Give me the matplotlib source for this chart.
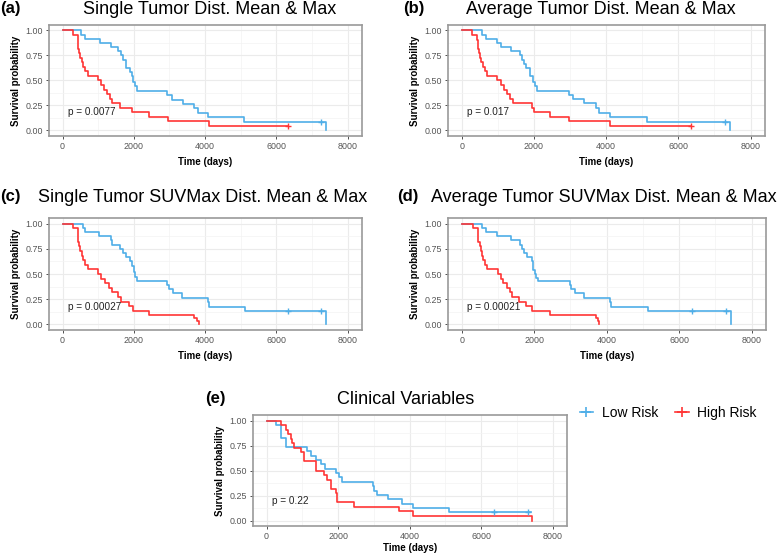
import numpy as np
import matplotlib
matplotlib.use("Agg")
import matplotlib.pyplot as plt
from matplotlib.lines import Line2D

plt.rcParams['font.family'] = ['Liberation Sans', 'DejaVu Sans']

BLUE = '#4FAEE8'
RED = '#FF3535'

# ---------------- data ----------------
titles = ["Single Tumor Dist. Mean & Max",
          "Average Tumor Dist. Mean & Max",
          "Single Tumor SUVMax Dist. Mean & Max",
          "Average Tumor SUVMax Dist. Mean & Max",
          "Clinical Variables"]
panel_tags = ["(a)", "(b)", "(c)", "(d)", "(e)"]
pvalues = ["p = 0.0077", "p = 0.017", "p = 0.00027", "p = 0.00021", "p = 0.22"]
legend_labels = ["Low Risk", "High Risk"]
x_ticks = [0, 2000, 4000, 6000, 8000]
y_ticks = [0.00, 0.25, 0.50, 0.75, 1.00]

# (a)
a_low_t = [0, 530, 620, 1040, 1360, 1550, 1640, 1690, 1780, 1880, 1940, 1990, 2030, 2080, 2920, 3080, 3380, 3690, 3810, 4085, 5100, 7400]
a_low_s = [1.0, 0.958, 0.917, 0.875, 0.833, 0.792, 0.75, 0.708, 0.625, 0.583, 0.54, 0.48, 0.44, 0.39, 0.35, 0.30, 0.26, 0.22, 0.17, 0.13, 0.083, 0.0]
a_low_c = [7260]
a_high_t = [0, 280, 420, 440, 470, 500, 540, 580, 640, 700, 990, 1070, 1150, 1250, 1330, 1380, 1620, 1960, 2430, 2950, 4100, 6330]
a_high_s = [1.0, 0.955, 0.909, 0.818, 0.773, 0.727, 0.682, 0.636, 0.591, 0.545, 0.5, 0.455, 0.409, 0.364, 0.318, 0.273, 0.227, 0.182, 0.136, 0.091, 0.045, 0.045]
a_high_c = [6330]

# (b)
b_low_t = [0, 550, 660, 970, 1090, 1360, 1620, 1680, 1730, 1790, 1900, 1970, 2030, 2080, 2980, 3080, 3380, 3730, 3800, 4100, 5130, 7420]
b_low_s = [1.0, 0.958, 0.917, 0.875, 0.833, 0.792, 0.75, 0.708, 0.667, 0.625, 0.54, 0.48, 0.44, 0.39, 0.35, 0.31, 0.27, 0.22, 0.17, 0.13, 0.083, 0.0]
b_low_c = [7290]
b_high_t = [0, 280, 420, 440, 470, 500, 540, 580, 640, 700, 990, 1080, 1170, 1250, 1340, 1420, 1940, 1990, 2440, 2970, 4100, 6350]
b_high_s = [1.0, 0.955, 0.909, 0.818, 0.773, 0.727, 0.682, 0.636, 0.591, 0.545, 0.5, 0.455, 0.409, 0.364, 0.318, 0.273, 0.227, 0.182, 0.136, 0.091, 0.045, 0.045]
b_high_c = [6350]

# (c)
c_low_t = [0, 575, 620, 1010, 1360, 1400, 1620, 1690, 1780, 1900, 1950, 1995, 2040, 2080, 2940, 2990, 3110, 3360, 4080, 4100, 5120, 7400]
c_low_s = [1.0, 0.958, 0.917, 0.875, 0.833, 0.792, 0.75, 0.708, 0.667, 0.625, 0.58, 0.52, 0.47, 0.43, 0.39, 0.35, 0.31, 0.26, 0.22, 0.175, 0.13, 0.0]
c_low_c = [6330, 7260]
c_high_t = [0, 280, 420, 440, 470, 500, 540, 580, 640, 700, 990, 1090, 1200, 1290, 1380, 1550, 1640, 1870, 1970, 2430, 3680, 3760, 3830]
c_high_s = [1.0, 0.955, 0.909, 0.818, 0.773, 0.727, 0.682, 0.636, 0.591, 0.545, 0.5, 0.455, 0.409, 0.364, 0.318, 0.273, 0.227, 0.182, 0.136, 0.091, 0.06, 0.03, 0.0]
c_high_c = []

# (d)
d_low_t = [0, 550, 670, 970, 1360, 1620, 1660, 1710, 1800, 1940, 1970, 2010, 2050, 2100, 2980, 3010, 3120, 3380, 4100, 4110, 5130, 7420]
d_low_s = [1.0, 0.958, 0.917, 0.875, 0.833, 0.792, 0.75, 0.708, 0.667, 0.625, 0.54, 0.5, 0.46, 0.43, 0.39, 0.35, 0.31, 0.26, 0.22, 0.175, 0.13, 0.0]
d_low_c = [6360, 7290]
d_high_t = [0, 300, 440, 460, 490, 520, 560, 600, 650, 690, 1010, 1080, 1150, 1250, 1340, 1380, 1570, 1760, 1940, 2440, 3710, 3760, 3800]
d_high_s = [1.0, 0.955, 0.909, 0.818, 0.773, 0.727, 0.682, 0.636, 0.591, 0.545, 0.5, 0.455, 0.409, 0.364, 0.318, 0.273, 0.227, 0.182, 0.136, 0.091, 0.06, 0.03, 0.0]
d_high_c = []

# (e)
e_low_t = [0, 260, 400, 540, 1140, 1240, 1370, 1510, 1630, 1930, 2030, 2120, 2970, 3000, 3100, 3390, 3790, 4090, 5090, 7400]
e_low_s = [1.0, 0.958, 0.83, 0.74, 0.70, 0.65, 0.61, 0.565, 0.52, 0.48, 0.435, 0.39, 0.35, 0.30, 0.26, 0.22, 0.17, 0.13, 0.087, 0.087]
e_low_c = [6350, 7300]
e_high_t = [0, 400, 540, 600, 680, 720, 770, 950, 1050, 1370, 1610, 1680, 1790, 1930, 1980, 2440, 3700, 4090, 7420]
e_high_s = [1.0, 0.955, 0.909, 0.864, 0.818, 0.773, 0.727, 0.682, 0.591, 0.5, 0.455, 0.409, 0.318, 0.273, 0.182, 0.136, 0.091, 0.045, 0.0]
e_high_c = []

panels = [
    (a_low_t, a_low_s, a_low_c, a_high_t, a_high_s, a_high_c),
    (b_low_t, b_low_s, b_low_c, b_high_t, b_high_s, b_high_c),
    (c_low_t, c_low_s, c_low_c, c_high_t, c_high_s, c_high_c),
    (d_low_t, d_low_s, d_low_c, d_high_t, d_high_s, d_high_c),
    (e_low_t, e_low_s, e_low_c, e_high_t, e_high_s, e_high_c),
]

# ---------------- layout (pixels) ----------------
W, H = 779, 554
frames = [(49, 25, 362, 136), (448, 25, 765, 136),
          (49, 218, 362, 330), (448, 218, 766, 330),
          (253, 415, 567, 526)]
title_pos = [(210, 9), (601, 9), (203, 198), (604, 198), (406, 399)]
tag_pos = [(0, 9), (403, 9), (0, 197), (397, 197), (205, 398)]
pval_y = [0.18, 0.18, 0.17, 0.17, 0.19]
xlabel_pad = [4, 4, 4, 4, 1]

fig = plt.figure(figsize=(W / 100, H / 100), dpi=100)


def step_value(t, s, c):
    idx = np.searchsorted(np.asarray(t), c, side='right') - 1
    return np.asarray(s)[idx]


for i, (lt, ls, lc, ht, hs, hc) in enumerate(panels):
    x0, y0, x1, y1 = frames[i]
    ax = fig.add_axes([x0 / W, 1 - y1 / H, (x1 - x0) / W, (y1 - y0) / H])
    ax.set_xlim(-380, 8400)
    ax.set_ylim(-0.055, 1.055)
    ax.set_xticks(x_ticks)
    ax.set_xticks([1000, 3000, 5000, 7000], minor=True)
    ax.set_yticks(y_ticks)
    ax.set_yticks([0.125, 0.375, 0.625, 0.875], minor=True)
    ax.set_yticklabels([f"{v:.2f}" for v in y_ticks])
    ax.grid(which='major', color='#EBEBEB', lw=0.8)
    ax.grid(which='minor', color='#F3F3F3', lw=0.5)
    ax.set_axisbelow(True)
    for sp in ax.spines.values():
        sp.set_color('#9A9A9A')
        sp.set_linewidth(1.2)
    ax.tick_params(which='major', labelsize=6.4, colors='#333333', labelcolor='#555555',
                   length=2.5, width=0.6, pad=2)
    ax.tick_params(which='minor', length=0)
    ax.set_xlabel("Time (days)", fontsize=7, fontweight='bold', labelpad=xlabel_pad[i])
    ax.set_ylabel("Survival probability", fontsize=7, fontweight='bold', labelpad=3)

    ax.step(lt, ls, where='post', color=BLUE, lw=1.2)
    ax.step(ht, hs, where='post', color=RED, lw=1.2)
    if lc:
        ax.plot(lc, step_value(lt, ls, lc), '+', color=BLUE, ms=5, mew=1.0)
    if hc:
        ax.plot(hc, step_value(ht, hs, hc), '+', color=RED, ms=5, mew=1.0)

    ax.text(150, pval_y[i], pvalues[i], fontsize=7.2, color='#222222', ha='left', va='center')

    tx, ty = title_pos[i]
    fig.text(tx / W, 1 - ty / H, titles[i], fontsize=13, ha='center', va='center')
    gx, gy = tag_pos[i]
    fig.text(gx / W, 1 - gy / H, panel_tags[i], fontsize=12, fontweight='bold', ha='left', va='center')

handles = [Line2D([], [], color=BLUE, marker='+', ms=7, mew=1.2, lw=1.2),
           Line2D([], [], color=RED, marker='+', ms=7, mew=1.2, lw=1.2)]
fig.legend(handles, legend_labels, loc='center', bbox_to_anchor=(668 / W, 1 - 413 / H),
           ncol=2, frameon=False, fontsize=10, handlelength=1.0, handletextpad=0.6,
           columnspacing=1.2)

fig.savefig("out.png", dpi=100, facecolor='white')
